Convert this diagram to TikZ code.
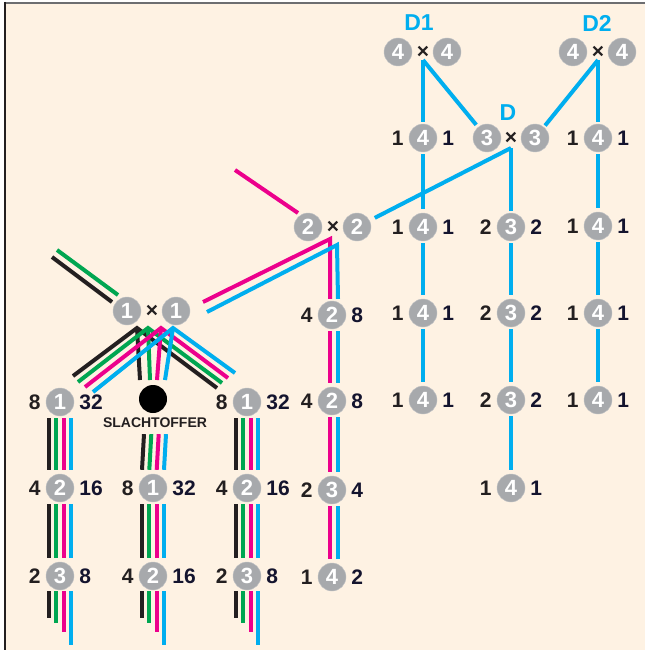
\documentclass[tikz,border=0pt]{standalone}
\usepackage{fontspec}
\setmainfont{Liberation Sans}
\usetikzlibrary{backgrounds}
\definecolor{bgc}{HTML}{FEF2E3}
\definecolor{ballc}{HTML}{A7A9AC}
\definecolor{kc}{HTML}{231F20}
\definecolor{nc}{HTML}{14142E}
\definecolor{gc}{HTML}{00A651}
\definecolor{mc}{HTML}{EC008C}
\definecolor{cc}{HTML}{00AEEF}
\definecolor{framegrey}{HTML}{6D6E71}
\newcommand\tripnode[6]{%
  \node[ball] (#1) at (#2,#3) {#5};
  \node[labl, anchor=east] (#1l) at ([xshift=-5pt]#1.west) {#4};
  \node[labr, anchor=west] (#1r) at ([xshift=5pt]#1.east) {#6};}
\newcommand\bund[2]{%
  \draw[lk] ([xshift=-11pt,yshift=-2pt]#1.south) -- ([xshift=-11pt,yshift=4pt]#2.north);
  \draw[lg] ([xshift=-3.7pt,yshift=-2pt]#1.south) -- ([xshift=-3.7pt,yshift=4pt]#2.north);
  \draw[lm] ([xshift=3.7pt,yshift=-2pt]#1.south) -- ([xshift=3.7pt,yshift=4pt]#2.north);
  \draw[lc] ([xshift=11pt,yshift=-2pt]#1.south) -- ([xshift=11pt,yshift=4pt]#2.north);}
\newcommand\stair[1]{%
  \draw[lk] ([xshift=-11pt,yshift=-1pt]#1.south) -- ++(0,27);
  \draw[lg] ([xshift=-3.7pt,yshift=-1pt]#1.south) -- ++(0,32);
  \draw[lm] ([xshift=3.7pt,yshift=-1pt]#1.south) -- ++(0,41);
  \draw[lc] ([xshift=11pt,yshift=-1pt]#1.south) -- ++(0,54);}
\begin{document}
\begin{tikzpicture}[x=1pt,y=-1pt,
  ball/.style={circle, fill=ballc, draw=ballc!70!white, line width=0.4pt, minimum size=28pt, inner sep=0pt, text=white, font=\bfseries\fontsize{22}{22}\selectfont},
  labl/.style={inner sep=0pt, text=kc, font=\bfseries\fontsize{21}{21}\selectfont},
  labr/.style={inner sep=0pt, text=nc, font=\bfseries\fontsize{21}{21}\selectfont},
  times/.style={inner sep=0pt, text=kc, font=\bfseries\fontsize{21}{21}\selectfont},
  dlab/.style={inner sep=0pt, text=cc, font=\bfseries\fontsize{23}{23}\selectfont},
  lk/.style={line width=4pt, kc},
  lg/.style={line width=4pt, gc},
  lm/.style={line width=4pt, mc},
  lc/.style={line width=4pt, cc},
  line join=miter]
\useasboundingbox (0,0) rectangle (645,650);
\begin{scope}[on background layer]
\fill[bgc] (5,3) rectangle (645,650);
\draw[line width=2pt, framegrey] (4,3) -- (645,3);
\draw[line width=2pt, kc] (5,2) -- (5,650);
\end{scope}

% ---------- top right: D1, D2, D ----------
\node[dlab] (labD1) at (419,23) {D1};
\node[dlab] (labD2) at (597,23) {D2};
\node[dlab] (labD) at (508,113) {D};
\node[ball] (d1a) at (398,52) {4};
\node[times] (d1x) at (423,52) {×};
\node[ball] (d1b) at (447,52) {4};
\node[ball] (d2a) at (573,52) {4};
\node[times] (d2x) at (598,52) {×};
\node[ball] (d2b) at (622,52) {4};
\node[ball] (da) at (487,138) {3};
\node[times] (dx) at (511,138) {×};
\node[ball] (db) at (535,138) {3};

\tripnode{a1}{423}{138}{1}{4}{1}
\tripnode{a2}{423}{227}{1}{4}{1}
\tripnode{a3}{423}{313}{1}{4}{1}
\tripnode{a4}{423}{400}{1}{4}{1}
\tripnode{b1}{511}{227}{2}{3}{2}
\tripnode{b2}{511}{313}{2}{3}{2}
\tripnode{b3}{511}{400}{2}{3}{2}
\tripnode{b4}{511}{488}{1}{4}{1}
\tripnode{c1}{598}{138}{1}{4}{1}
\tripnode{c2}{598}{226}{1}{4}{1}
\tripnode{c3}{598}{313}{1}{4}{1}
\tripnode{c4}{598}{400}{1}{4}{1}

% ---------- 2 x 2 ----------
\node[ball] (ta) at (308,227) {2};
\node[times] (tx) at (333,227) {×};
\node[ball] (tb) at (357,227) {2};
\tripnode{m1}{332}{315}{4}{2}{8}
\tripnode{m2}{332}{401}{4}{2}{8}
\tripnode{m3}{332}{490}{2}{3}{4}
\tripnode{m4}{332}{577}{1}{4}{2}

% ---------- 1 x 1 ----------
\node[ball] (oa) at (127,311) {1};
\node[times] (ox) at (152,311) {×};
\node[ball] (ob) at (176,311) {1};
\tripnode{l1}{60}{402}{8}{1}{32}
\tripnode{l2}{60}{488}{4}{2}{16}
\tripnode{l3}{60}{576}{2}{3}{8}
\tripnode{r1}{247}{402}{8}{1}{32}
\tripnode{r2}{247}{488}{4}{2}{16}
\tripnode{r3}{247}{576}{2}{3}{8}
\node[circle, fill=black, minimum size=28pt, inner sep=0pt] (s0) at (153,399) {};
\node[inner sep=0pt, text=kc, font=\bfseries\fontsize{14}{14}\selectfont] (stxt) at (155,423) {SLACHTOFFER};
\tripnode{s2}{153}{488}{8}{1}{32}
\tripnode{s3}{153}{576}{4}{2}{16}

% ---------- connector coordinates ----------
\coordinate (d1v) at (423,60);
\coordinate (d2v) at (598,60);
\coordinate (dv) at (511,148);
\coordinate (tvm) at (330,239);
\coordinate (tvc) at (337,245);
\coordinate (m0a) at (235,170);
\coordinate (m0b) at (298,213);
\coordinate (k0a) at (52,257);
\coordinate (k0b) at (112,302);
\coordinate (g0a) at (57,250);
\coordinate (g0b) at (118,295);
\coordinate (om) at (203,302);
\coordinate (oc) at (207,312);
\coordinate (vk) at (137,328);
\coordinate (vg) at (148,328);
\coordinate (vm) at (161,328);
\coordinate (vc) at (173,328);
\coordinate (lk) at (73,376);
\coordinate (lg) at (78,382);
\coordinate (lm) at (85,387);
\coordinate (lc) at (93,392);
\coordinate (ck) at (140,380);
\coordinate (cg) at (150,380);
\coordinate (cm) at (157,380);
\coordinate (ccc) at (165,380);
\coordinate (rk) at (217,388);
\coordinate (rg) at (222,383);
\coordinate (rm) at (228,378);
\coordinate (rc) at (235,373);

\begin{scope}[on background layer]
% D1, D2, D
\draw[lc] (d1v) -- ([yshift=2pt]a1.north);
\draw[lc, shorten >=17pt] (d1v) -- (da.center);
\draw[lc] (d2v) -- ([yshift=2pt]c1.north);
\draw[lc, shorten >=16pt] (d2v) -- (db.center);
\draw[lc] (dv) -- ([yshift=2pt]b1.north);
\draw[lc, shorten >=20pt] (dv) -- (tb.center);
\draw[lc] ([yshift=-2pt]a1.south) -- ([yshift=4pt]a2.north);
\draw[lc] ([yshift=-2pt]a2.south) -- ([yshift=4pt]a3.north);
\draw[lc] ([yshift=-2pt]a3.south) -- ([yshift=4pt]a4.north);
\draw[lc] ([yshift=-2pt]b1.south) -- ([yshift=4pt]b2.north);
\draw[lc] ([yshift=-2pt]b2.south) -- ([yshift=4pt]b3.north);
\draw[lc] ([yshift=-2pt]b3.south) -- ([yshift=4pt]b4.north);
\draw[lc] ([yshift=-2pt]c1.south) -- ([yshift=4pt]c2.north);
\draw[lc] ([yshift=-2pt]c2.south) -- ([yshift=4pt]c3.north);
\draw[lc] ([yshift=-2pt]c3.south) -- ([yshift=4pt]c4.north);
% 2 x 2
\draw[lm] (m0a) -- (m0b);
\draw[lm] (om) -- (tvm) -- ([xshift=-2pt,yshift=2pt]m1.north);
\draw[lc] (oc) -- (tvc) -- ([xshift=6pt,yshift=2pt]m1.north);
\foreach \p/\q in {m1/m2, m2/m3, m3/m4}{
  \draw[lm] ([xshift=-2pt,yshift=-2pt]\p.south) -- ([xshift=-2pt,yshift=4pt]\q.north);
  \draw[lc] ([xshift=6pt,yshift=-2pt]\p.south) -- ([xshift=6pt,yshift=4pt]\q.north);
}
% 1 x 1 incoming
\draw[lk] (k0a) -- (k0b);
\draw[lg] (g0a) -- (g0b);
% 1 x 1 fan
\draw[lk] (lk) -- (vk) -- (rk);
\draw[lk] (vk) -- (ck);
\draw[lg] (lg) -- (vg) -- (rg);
\draw[lg] (vg) -- (cg);
\draw[lm] (lm) -- (vm) -- (rm);
\draw[lm] (vm) -- (cm);
\draw[lc] (lc) -- (vc) -- (rc);
\draw[lc] (vc) -- (ccc);
% bundles
\bund{l1}{l2}
\bund{l2}{l3}
\stair{l3}
\bund{r1}{r2}
\bund{r2}{r3}
\stair{r3}
\draw[lk] ([xshift=-11pt,yshift=-6pt]stxt.south) -- ([xshift=-11pt,yshift=4pt]s2.north);
\draw[lg] ([xshift=-3.7pt,yshift=-6pt]stxt.south) -- ([xshift=-3.7pt,yshift=4pt]s2.north);
\draw[lm] ([xshift=3.7pt,yshift=-6pt]stxt.south) -- ([xshift=3.7pt,yshift=4pt]s2.north);
\draw[lc] ([xshift=11pt,yshift=-6pt]stxt.south) -- ([xshift=11pt,yshift=4pt]s2.north);
\bund{s2}{s3}
\stair{s3}
\end{scope}
\end{tikzpicture}
\end{document}
